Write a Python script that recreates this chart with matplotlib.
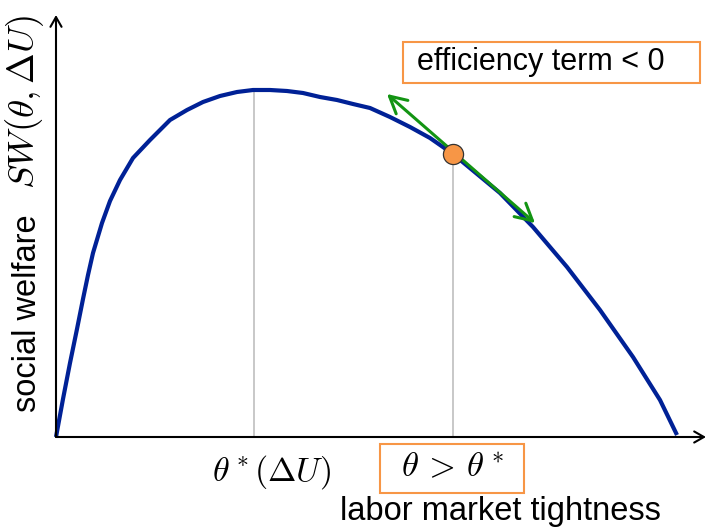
import matplotlib

matplotlib.use("Agg")
import matplotlib.pyplot as plt
from matplotlib.patches import Rectangle

plt.rcParams["font.family"] = ["Liberation Sans", "DejaVu Sans"]
plt.rcParams["mathtext.fontset"] = "cm"

# welfare curve SW(theta) (units: pixels from origin)
theta = [0, 7, 14, 21, 27, 32, 37, 46, 54, 64, 77, 94, 114, 131, 147, 164, 181,
         197, 214, 231, 247, 264, 281, 297, 314, 334, 354, 374, 397, 444, 477, 511,
         544, 577, 604, 621]
welfare = [0, 38, 74, 108, 138, 162, 184, 214, 236, 257, 279, 297, 317, 327, 335,
           341, 345, 347, 347, 346, 344, 340, 337, 333, 329, 320, 310, 299, 283, 244,
           210, 170, 127, 80, 37, 2]

theta_star = 198
sw_star = 347
theta_hi = 397
sw_hi = 283
tangent_start = (331, 343)
tangent_end = (479, 214)

BLUE = "#002196"
GREEN = "#139413"
ORANGE = "#f79646"
GREY = "#bfbfbf"

fig = plt.figure(figsize=(7.06, 5.31), dpi=100)
ax = fig.add_axes([0, 0, 1, 1])
ax.set_xlim(-56, 650)
ax.set_ylim(-94, 437)
ax.axis("off")

# axes with arrow heads
axis_arrow = dict(arrowstyle="->,head_length=0.7,head_width=0.4", color="black",
                  lw=1.5, shrinkA=0, shrinkB=0, mutation_scale=10)
ax.annotate("", xy=(650, 0), xytext=(0, 0), arrowprops=axis_arrow)
ax.annotate("", xy=(0, 422), xytext=(0, 0), arrowprops=axis_arrow)

# guide lines
ax.plot([theta_star, theta_star], [0, sw_star], color=GREY, lw=1.2, zorder=1)
ax.plot([theta_hi, theta_hi], [0, sw_hi], color=GREY, lw=1.2, zorder=1)

ax.plot(theta, welfare, color=BLUE, lw=3, solid_capstyle="butt",
        solid_joinstyle="round", zorder=2)

ax.annotate("", xy=tangent_start, xytext=tangent_end,
            arrowprops=dict(arrowstyle="<->,head_length=0.6,head_width=0.32", color=GREEN,
                            lw=2.2, shrinkA=0, shrinkB=0, mutation_scale=20), zorder=3)
ax.plot([theta_hi], [sw_hi], "o", ms=14.5, color=ORANGE, mec="#333333", mew=0.9, zorder=4)

# labels
ax.text(-28, 124, "social welfare", rotation=90, ha="center", va="center", fontsize=23.5)
ax.text(-31, 335, r"$SW(\theta, \Delta U)$", rotation=90, ha="center", va="center",
        fontsize=26.5)
ax.text(216, -35, r"$\theta^*(\Delta U)$", ha="center", va="center", fontsize=24.5)
ax.add_patch(Rectangle((324, -56), 144, 49, fill=False, ec=ORANGE, lw=1.5, clip_on=False))
ax.text(396, -31, r"$\theta\,>\,\theta^*$", ha="center", va="center", fontsize=25)
ax.text(444, -83, "labor market tightness", ha="center", va="baseline", fontsize=23.5)

ax.add_patch(Rectangle((347, 354), 297, 41, fill=False, ec=ORANGE, lw=1.5, clip_on=False))
ax.text(361, 375, "efficiency term < 0", ha="left", va="center", fontsize=22)

fig.savefig("out.png", dpi=100)
